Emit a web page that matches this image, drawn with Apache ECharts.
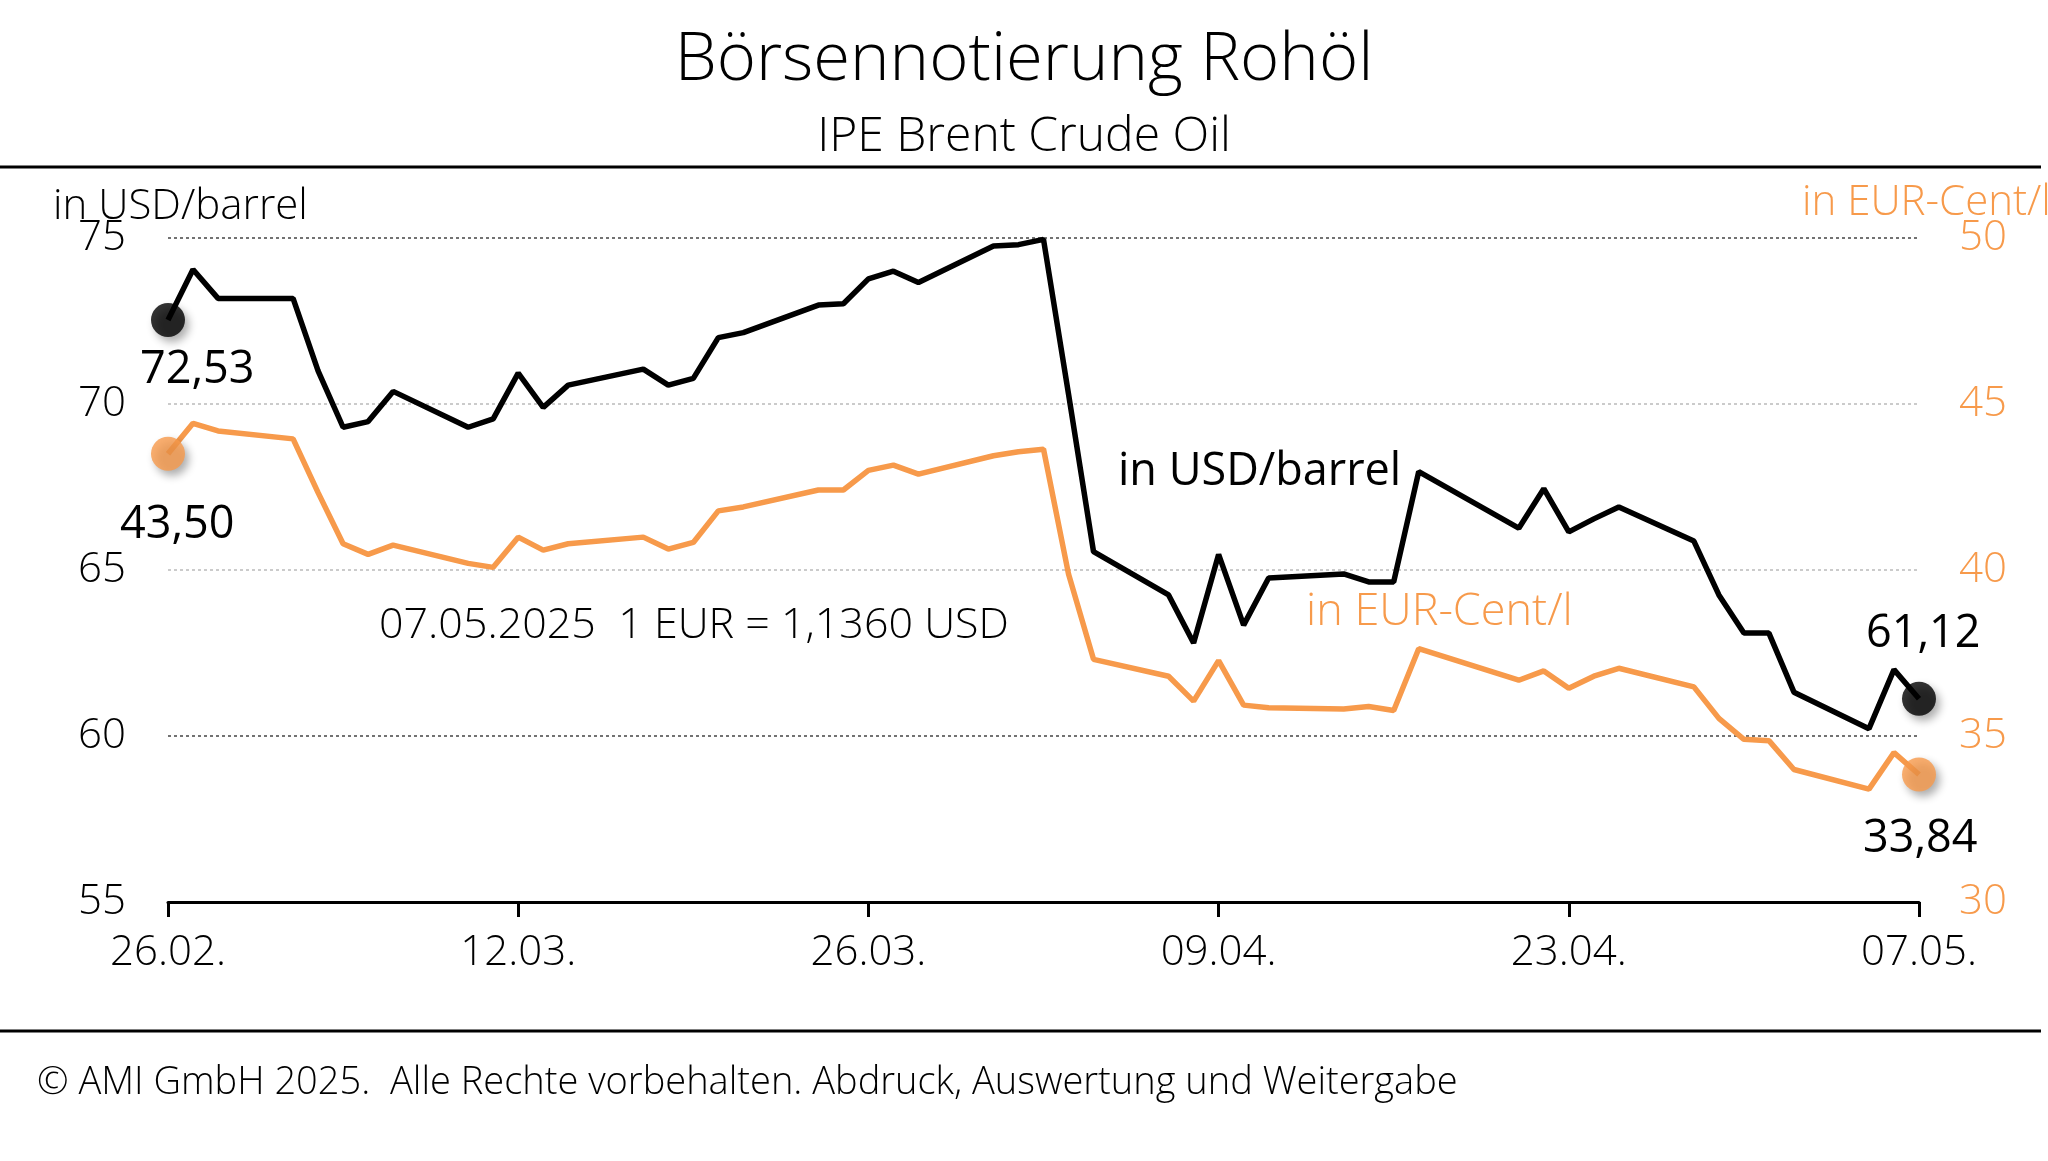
<!DOCTYPE html>
<html>
<head>
<meta charset="utf-8">
<style>html,body{margin:0;padding:0;background:#fff}#main{width:2048px;height:1161px}</style>
<script src="https://cdn.jsdelivr.net/npm/echarts@6/dist/echarts.min.js"></script>
</head>
<body>
<div id="main"></div>
<script>
// trading days as offsets from 26.02.2025
var dayOffsets = [0,1,2,5,6,7,8,9,12,13,14,15,16,19,20,21,22,23,26,27,28,29,30,33,34,35,36,37,40,41,42,43,44,47,48,49,50,54,55,56,57,58,61,62,63,64,65,68,69,70];
var usdBarrel = [72.53,74.05,73.18,73.18,71.0,69.3,69.47,70.38,69.3,69.55,70.93,69.9,70.57,71.05,70.57,70.77,72.0,72.15,72.98,73.02,73.77,74.0,73.66,74.76,74.8,74.96,70.3,65.55,64.25,62.8,65.47,63.34,64.76,64.88,64.64,64.64,67.96,66.26,67.45,66.15,66.54,66.9,65.87,64.25,63.1,63.1,61.32,60.22,62.0,61.12];
var eurCentL = [43.5,44.42,44.19,43.95,42.33,40.79,40.47,40.75,40.2,40.08,40.99,40.6,40.79,40.99,40.63,40.83,41.78,41.9,42.41,42.41,43.0,43.16,42.89,43.44,43.56,43.64,39.88,37.31,36.8,36.05,37.27,35.93,35.85,35.81,35.89,35.77,37.63,36.68,36.96,36.44,36.8,37.04,36.48,35.53,34.9,34.86,33.99,33.4,34.5,33.84];
var tickLabels = ['26.02.','12.03.','26.03.','09.04.','23.04.','07.05.'];

var ORANGE = '#f79a4b';
var FONT = 'Open Sans';
function fmt(v) { return v.toFixed(2).replace('.', ','); }
function pairs(vals) { return dayOffsets.map(function (d, i) { return [d, vals[i]]; }); }
var last = dayOffsets.length - 1;

var chart = echarts.init(document.getElementById('main'));
var txt = function (x, y, text, size, color, weight) {
    return {type: 'text', left: x, top: y, style: {text: text, font: (weight || 300) + ' ' + size + 'px "' + FONT + '"', fill: color || '#000'}};
};
var shadow = {shadowBlur: 8, shadowOffsetX: 4, shadowOffsetY: 5, shadowColor: 'rgba(0,0,0,0.4)'};
chart.setOption({
    animation: false,
    textStyle: {fontFamily: FONT},
    title: [
        {text: 'Börsennotierung Rohöl', left: 'center', top: 22, textStyle: {fontSize: 67, fontWeight: 300, color: '#000', fontFamily: FONT}},
        {text: 'IPE Brent Crude Oil', left: 'center', top: 108, textStyle: {fontSize: 48, fontWeight: 300, color: '#000', fontFamily: FONT}}
    ],
    grid: {left: 168, right: 129, top: 238, bottom: 259},
    xAxis: {
        type: 'value', min: 0, max: 70, interval: 14,
        axisLine: {lineStyle: {color: '#000', width: 3}},
        axisTick: {show: true, length: 15, inside: false, lineStyle: {color: '#000', width: 3}},
        axisLabel: {fontSize: 42, fontWeight: 300, color: '#000', margin: 30, fontFamily: FONT,
            formatter: function (v) { return tickLabels[v / 14]; }},
        splitLine: {show: false}
    },
    yAxis: [{
        type: 'value', min: 55, max: 75, interval: 5,
        axisLine: {show: false}, axisTick: {show: false},
        axisLabel: {fontSize: 42, fontWeight: 300, color: '#000', margin: 42, fontFamily: FONT},
        splitLine: {lineStyle: {type: [3, 3], width: 1.5, color: ['#444', '#444', '#bbb', '#bbb', '#444']}}
    }, {
        type: 'value', min: 30, max: 50, interval: 5,
        axisLine: {show: false}, axisTick: {show: false},
        axisLabel: {fontSize: 42, fontWeight: 300, color: ORANGE, margin: 40, fontFamily: FONT},
        splitLine: {show: false}
    }],
    series: [
        {type: 'line', data: pairs(usdBarrel), yAxisIndex: 0, symbol: 'none', lineStyle: {color: '#000', width: 5.5}, z: 3},
        {type: 'line', data: pairs(eurCentL), yAxisIndex: 1, symbol: 'none', lineStyle: {color: ORANGE, width: 5.5}, z: 2},
        {type: 'scatter', yAxisIndex: 0, symbolSize: 34, z: 4,
            itemStyle: Object.assign({color: '#000'}, shadow),
            data: [[dayOffsets[0], usdBarrel[0]], [dayOffsets[last], usdBarrel[last]]]},
        {type: 'scatter', yAxisIndex: 1, symbolSize: 34, z: 4,
            itemStyle: Object.assign({color: ORANGE}, shadow),
            data: [[dayOffsets[0], eurCentL[0]], [dayOffsets[last], eurCentL[last]]]}
    ],
    graphic: [
        {type: 'line', shape: {x1: 0, y1: 167, x2: 2041, y2: 167}, style: {stroke: '#000', lineWidth: 3}},
        {type: 'line', shape: {x1: 0, y1: 1031, x2: 2041, y2: 1031}, style: {stroke: '#000', lineWidth: 3}},
        txt(53, 186, 'in USD/barrel', 42),
        txt(1802, 182, 'in EUR-Cent/l', 42, ORANGE),
        txt(140, 348, fmt(usdBarrel[0]), 45, '#000', 400),
        txt(120, 503, fmt(eurCentL[0]), 45, '#000', 400),
        txt(1866, 612, fmt(usdBarrel[last]), 45, '#000', 400),
        txt(1863, 817, fmt(eurCentL[last]), 45, '#000', 400),
        txt(1118, 450, 'in USD/barrel', 45, '#000', 400),
        txt(1306, 590, 'in EUR-Cent/l', 45, ORANGE),
        txt(379, 604, '07.05.2025  1 EUR = 1,1360 USD', 43),
        txt(37, 1064, '© AMI GmbH 2025.  Alle Rechte vorbehalten. Abdruck, Auswertung und Weitergabe', 38)
    ]
});
window.onresize = chart.resize;
</script>
</body>
</html>
